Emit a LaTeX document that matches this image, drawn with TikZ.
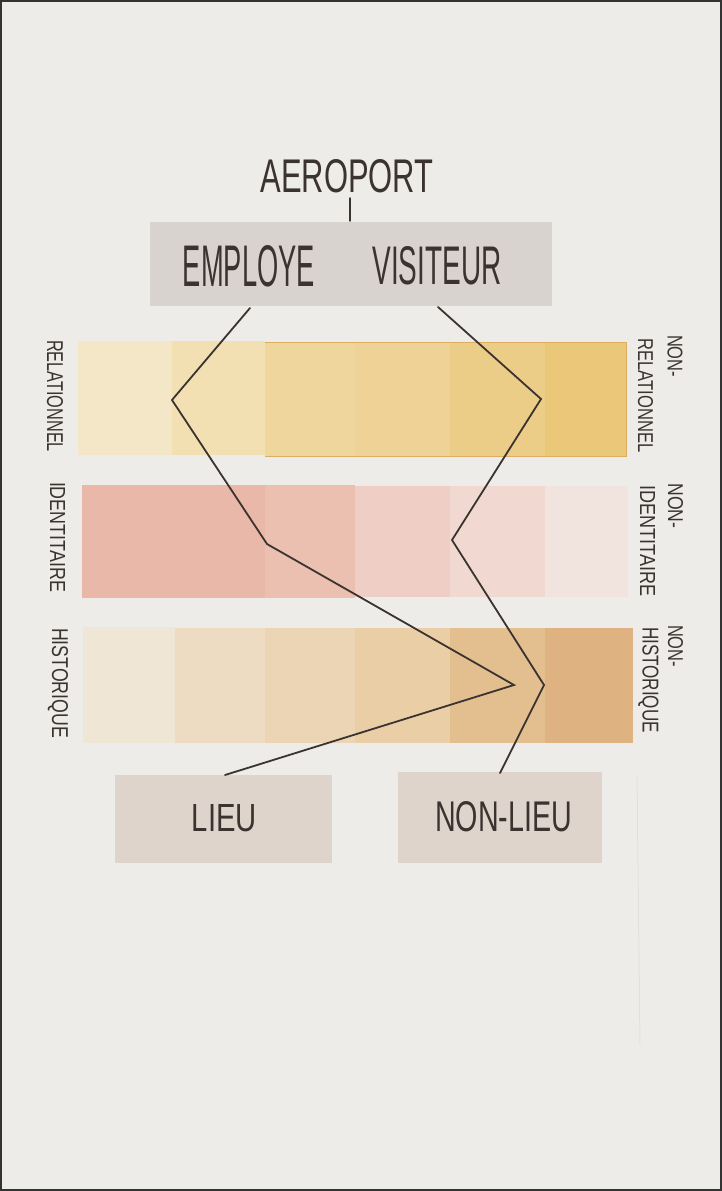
\documentclass[tikz,border=0pt]{standalone}
\usepackage{fontspec}
\usepackage{graphicx}
\newfontfamily\hand{Liberation Sans}
\newcommand{\fitw}[3]{\resizebox{#1pt}{#2pt}{\hand #3}}
\definecolor{paper}{HTML}{EDECE9}
\definecolor{ink}{HTML}{3B3330}
\definecolor{greybox}{HTML}{D8D3CE}
\definecolor{placebox}{HTML}{DED4CC}
\definecolor{yA}{HTML}{F4E7C7}
\definecolor{yB}{HTML}{F2E0B3}
\definecolor{yC}{HTML}{EFD69D}
\definecolor{yD}{HTML}{EED296}
\definecolor{yE}{HTML}{ECCD88}
\definecolor{yF}{HTML}{EAC779}
\definecolor{yEdge}{HTML}{DCAE62}
\definecolor{pA}{HTML}{E9B8A8}
\definecolor{pB}{HTML}{EBC0B1}
\definecolor{pC}{HTML}{EFCFC5}
\definecolor{pD}{HTML}{F1D9D1}
\definecolor{pE}{HTML}{F1E3DD}
\definecolor{hA}{HTML}{EFE6D6}
\definecolor{hB}{HTML}{EEDCC2}
\definecolor{hC}{HTML}{ECD5B4}
\definecolor{hD}{HTML}{EACEA6}
\definecolor{hE}{HTML}{E3BF90}
\definecolor{hF}{HTML}{DEB381}
\tikzset{
  label/.style={inner sep=0pt, text=ink},
  vlabel/.style={inner sep=0pt, text=ink, rotate=-90},
  pen/.style={draw=ink, line width=1.8pt, line join=miter, line cap=round},
}
\begin{document}
\begin{tikzpicture}[x=1pt,y=-1pt]
\useasboundingbox (0,0) rectangle (722,1191);
\fill[paper] (0,0) rectangle (722,1191);
\draw[black!80, line width=4pt] (0,0) rectangle (722,1191);
% faint pencil guide
\draw[black!15, line width=0.5pt] (637,775) -- (640,1045);

% title
\node[label] (aero) at (347,176) {\fitw{173}{33}{AEROPORT}};
% grey box
\fill[greybox] (150,222) rectangle (552,306);
\node[label] (emp) at (249,266) {\fitw{132}{41}{EMPLOYE}};
\node[label] (vis) at (437,266) {\fitw{129}{38}{VISITEUR}};
\coordinate (tickTop) at (350,198);
\coordinate (tickBot) at (350,221);
\draw[pen, line width=1.4pt] (tickTop) -- (tickBot);

% band 1 : relationnel
\fill[yA] (78,341) rectangle (172,455);
\fill[yB] (172,341) rectangle (265,455);
\fill[yC] (265,342) rectangle (355,456);
\fill[yD] (355,342) rectangle (450,456);
\fill[yE] (450,342) rectangle (545,456);
\fill[yF] (545,342) rectangle (626,456);
\draw[yEdge, line width=1pt] (265,342) -- (626,342) -- (626,456) -- (265,456);
% band 2 : identitaire
\fill[pA] (82,485) rectangle (265,598);
\fill[pB] (265,485) rectangle (355,598);
\fill[pC] (355,486) rectangle (450,597);
\fill[pD] (450,486) rectangle (545,597);
\fill[pE] (545,486) rectangle (628,597);
% band 3 : historique
\fill[hA] (83,627) rectangle (175,743);
\fill[hB] (175,628) rectangle (265,743);
\fill[hC] (265,628) rectangle (355,743);
\fill[hD] (355,628) rectangle (450,743);
\fill[hE] (450,628) rectangle (545,743);
\fill[hF] (545,628) rectangle (633,743);

% side labels left
\node[vlabel] (relL) at (55,396) {\fitw{112}{16}{RELATIONNEL}};
\node[vlabel] (ideL) at (57.5,537) {\fitw{110}{15}{IDENTITAIRE}};
\node[vlabel] (hisL) at (58,683) {\fitw{110}{16}{HISTORIQUE}};
% side labels right
\node[vlabel] (non1) at (675,356) {\fitw{42}{15}{NON-}};
\node[vlabel] (relR) at (645.5,395.5) {\fitw{114}{15}{RELATIONNEL}};
\node[vlabel] (non2) at (675.5,506) {\fitw{45}{15}{NON-}};
\node[vlabel] (ideR) at (647.5,541) {\fitw{111}{15}{IDENTITAIRE}};
\node[vlabel] (non3) at (675.5,646) {\fitw{42}{15}{NON-}};
\node[vlabel] (hisR) at (648.5,680) {\fitw{106}{16}{HISTORIQUE}};

% bottom boxes
\fill[placebox] (115,775) rectangle (332,863);
\fill[placebox] (398,772) rectangle (602,863);
\node[label] (lieu) at (224.5,818.5) {\fitw{65}{27}{LIEU}};
\node[label] (nonlieu) at (503.5,817) {\fitw{137}{30}{NON-LIEU}};

% paths
\coordinate (e0) at (250,308);
\coordinate (e1) at (172,400);
\coordinate (e2) at (267,544);
\coordinate (e3) at (514,685);
\coordinate (e4) at (225,775);
\coordinate (v0) at (438,307);
\coordinate (v1) at (541,399);
\coordinate (v2) at (452,540);
\coordinate (v3) at (544,685);
\coordinate (v4) at (500,773);
\draw[pen] (e0) -- (e1) -- (e2) -- (e3) -- (e4);
\draw[pen] (v0) -- (v1) -- (v2) -- (v3) -- (v4);
\end{tikzpicture}
\end{document}
